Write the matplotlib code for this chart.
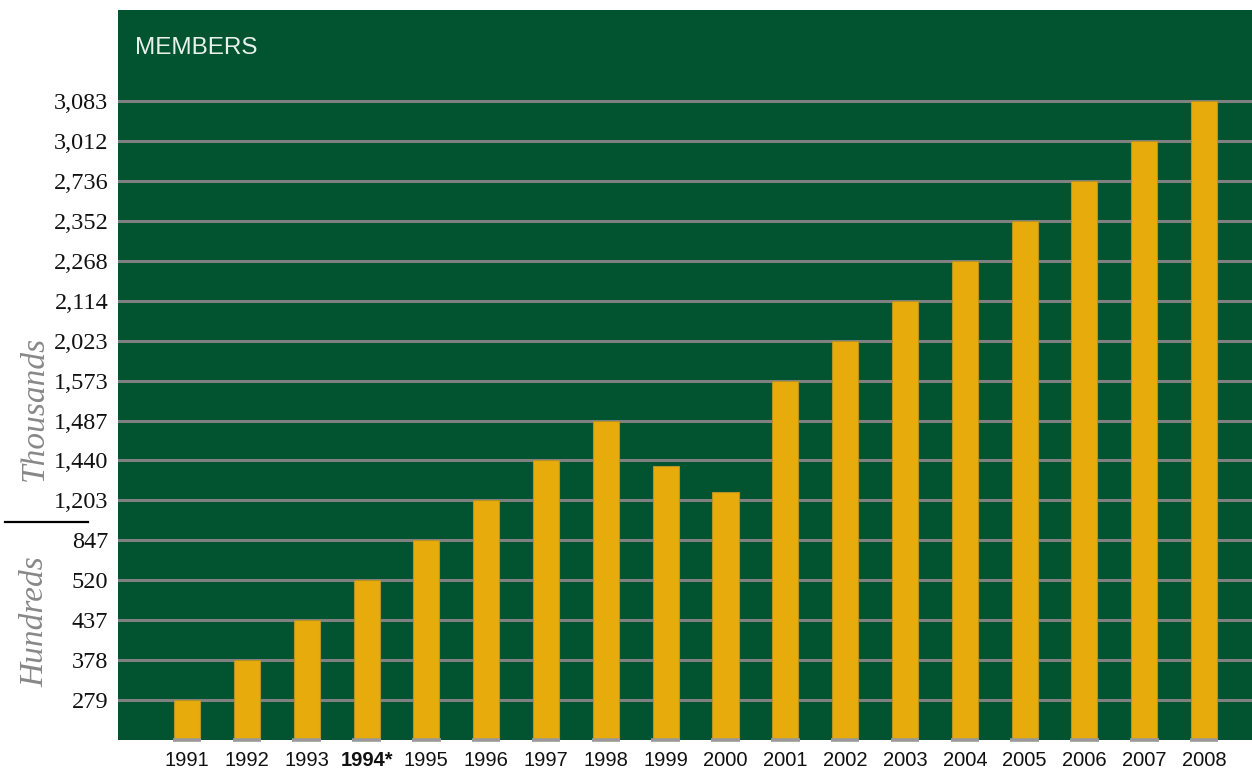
import numpy as np
import matplotlib
matplotlib.use("Agg")
import matplotlib.pyplot as plt
from matplotlib.lines import Line2D
from matplotlib.ticker import NullLocator, FixedLocator

# ---- data ----
years = ["1991", "1992", "1993", "1994*", "1995", "1996", "1997", "1998", "1999",
         "2000", "2001", "2002", "2003", "2004", "2005", "2006", "2007", "2008"]
members = [279, 378, 437, 520, 847, 1203, 1440, 1487, 1410, 1250,
           1573, 2023, 2114, 2268, 2352, 2736, 3012, 3083]
tick_values = [279, 378, 437, 520, 847, 1203, 1440, 1487, 1573, 2023,
               2114, 2268, 2352, 2736, 3012, 3083]
title = "MEMBERS"

# ---- styles ----
GREEN = "#02532f"
GOLD = "#e8ab0c"
GRID = "#808080"

# piecewise scale: each labelled value gets its own evenly spaced gridline
kv = np.array([0.0] + [float(v) for v in tick_values])
kp = np.arange(len(kv), dtype=float)
slope_hi = kv[-1] - kv[-2]

def fwd(v):
    v = np.asarray(v, dtype=float)
    p = np.interp(v, kv, kp)
    p = np.where(v > kv[-1], kp[-1] + (v - kv[-1]) / slope_hi, p)
    return p

def inv(p):
    p = np.asarray(p, dtype=float)
    v = np.interp(p, kp, kv)
    v = np.where(p > kp[-1], kv[-1] + (p - kp[-1]) * slope_hi, v)
    return v

W, H = 1252, 770
fig = plt.figure(figsize=(W / 100, H / 100), dpi=100)
ax = fig.add_axes([118 / W, 30 / H, (W - 118) / W, (740 - 10) / H])
ax.set_facecolor(GREEN)
ax.set_yscale("function", functions=(fwd, inv))

x = np.arange(len(years))
bw = 0.435
ax.bar(x, members, width=bw, color=GOLD, edgecolor="#b39326", linewidth=0.8, zorder=3)
ax.hlines([float(inv(-0.03))] * len(x), x - bw / 2 - 0.02, x + bw / 2 + 0.02,
          color="#999999", linewidth=2.6, zorder=4, clip_on=False)

ax.set_xlim(-1.154, 17.80)
ax.set_ylim(0, float(inv(18.28)))

ax.yaxis.set_major_locator(FixedLocator(tick_values))
ax.yaxis.set_minor_locator(NullLocator())
ax.set_yticklabels([f"{v:,}" for v in tick_values], fontfamily="Liberation Serif",
                   fontsize=17.5, color="#111111")
ax.set_xticks(x)
ax.set_xticklabels(years, fontfamily=["Liberation Sans Narrow", "Liberation Sans"],
                   fontsize=14.5, color="#111111")
for lbl in ax.get_xticklabels():
    if "*" in lbl.get_text():
        lbl.set_fontweight("bold")
ax.tick_params(axis="y", length=0, pad=7)
ax.tick_params(axis="x", length=0, pad=8)
ax.grid(axis="y", color=GRID, linewidth=2.2, zorder=1)
ax.set_axisbelow(True)
for s in ax.spines.values():
    s.set_visible(False)

ax.text((135 - 118) / (W - 118), 1 - (48 - 10) / 730, title,
        transform=ax.transAxes, color="#e9f1ec", fontsize=17.5,
        fontfamily="Liberation Sans", va="center", ha="left")

fig.text(35 / W, 1 - 408 / H, "Thousands", rotation=90, fontsize=24, fontstyle="italic",
         fontfamily="Liberation Serif", color="#888888", ha="center", va="center")
fig.text(35 / W, 1 - 622 / H, "Hundreds", rotation=90, fontsize=24, fontstyle="italic",
         fontfamily="Liberation Serif", color="#888888", ha="center", va="center")
fig.add_artist(Line2D([5 / W, 88 / W], [1 - 522 / H, 1 - 522 / H], color="black",
                      linewidth=1.6, transform=fig.transFigure))

fig.savefig("out.png", dpi=100, facecolor="white")
